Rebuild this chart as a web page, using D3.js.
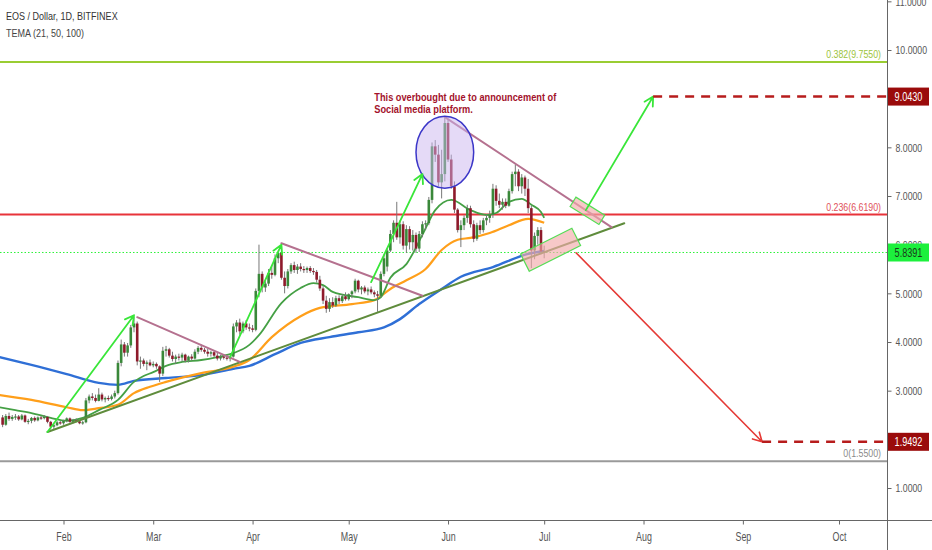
<!DOCTYPE html>
<html>
<head>
<meta charset="utf-8">
<script src="https://cdn.jsdelivr.net/npm/d3@7"></script>
<style>
  body { margin: 0; background: #fff; }
  svg { display: block; font-family: "Liberation Sans", Arial, sans-serif; }
</style>
</head>
<body>
<svg id="chart" width="932" height="550"></svg>
<script>
// ---- data ----
const startDay = "2019-01-13";
// daily candles [open, high, low, close], Jan 13 .. Jul 1 2019
const ohlc = [
  [2.45,2.50,2.25,2.30],[2.30,2.52,2.28,2.48],[2.48,2.55,2.38,2.42],[2.42,2.50,2.38,2.46],[2.46,2.52,2.40,2.47],
  [2.47,2.50,2.38,2.41],[2.41,2.52,2.39,2.49],[2.49,2.51,2.34,2.36],[2.36,2.42,2.31,2.38],[2.38,2.46,2.33,2.44],
  [2.44,2.47,2.36,2.39],[2.39,2.47,2.37,2.45],[2.45,2.48,2.40,2.44],[2.44,2.50,2.41,2.46],[2.46,2.48,2.33,2.36],
  [2.36,2.38,2.20,2.26],[2.26,2.32,2.21,2.29],[2.29,2.38,2.27,2.35],[2.35,2.38,2.30,2.33],
  // Feb
  [2.33,2.40,2.30,2.38],[2.38,2.45,2.35,2.43],[2.43,2.45,2.34,2.36],[2.36,2.42,2.33,2.39],[2.39,2.43,2.35,2.37],
  [2.37,2.39,2.31,2.33],[2.33,2.38,2.30,2.35],[2.35,2.85,2.33,2.80],[2.80,2.92,2.74,2.88],[2.88,2.95,2.80,2.85],
  [2.85,2.92,2.76,2.79],[2.79,3.05,2.78,2.92],[2.92,2.96,2.78,2.82],[2.82,2.88,2.76,2.85],[2.85,2.90,2.79,2.83],
  [2.83,2.92,2.80,2.88],[2.88,3.00,2.84,2.95],[2.95,3.62,2.92,3.57],[3.57,4.05,3.50,3.95],[3.95,4.00,3.70,3.78],
  [3.78,3.98,3.70,3.93],[3.93,4.35,3.88,4.30],[4.30,4.52,4.20,4.38],[4.38,4.42,3.52,3.60],[3.60,3.70,3.45,3.62],
  [3.62,3.66,3.50,3.55],[3.55,3.62,3.42,3.58],[3.58,3.64,3.50,3.52],
  // Mar
  [3.52,3.60,3.48,3.55],[3.55,3.58,3.45,3.50],[3.50,3.52,3.18,3.35],[3.35,3.90,3.30,3.82],[3.82,3.92,3.70,3.85],
  [3.85,3.88,3.68,3.72],[3.72,3.80,3.60,3.65],[3.65,3.74,3.55,3.70],[3.70,3.76,3.62,3.68],[3.68,3.78,3.60,3.74],
  [3.74,3.76,3.58,3.62],[3.62,3.72,3.58,3.70],[3.70,3.75,3.62,3.66],[3.66,3.85,3.64,3.80],[3.80,3.92,3.75,3.88],
  [3.88,3.95,3.80,3.84],[3.84,3.88,3.76,3.80],[3.80,3.86,3.70,3.76],[3.76,3.82,3.70,3.79],[3.79,3.82,3.68,3.72],
  [3.72,3.78,3.62,3.66],[3.66,3.74,3.62,3.70],[3.70,3.75,3.64,3.68],[3.68,3.72,3.62,3.66],[3.66,3.72,3.60,3.70],
  [3.70,4.38,3.68,4.32],[4.32,4.45,4.20,4.40],[4.40,4.48,4.15,4.22],[4.22,4.42,4.18,4.38],[4.38,4.45,4.25,4.30],
  [4.30,4.38,4.22,4.28],
  // Apr
  [4.28,4.35,4.20,4.25],[4.25,5.10,4.22,5.05],[5.05,6.00,4.92,5.40],[5.40,5.45,5.02,5.12],[5.12,5.25,5.03,5.20],
  [5.20,5.50,5.15,5.42],[5.42,5.58,5.30,5.38],[5.38,5.80,5.35,5.72],[5.72,5.88,5.62,5.83],[5.83,6.03,5.28,5.32],
  [5.32,5.45,5.00,5.15],[5.15,5.50,5.10,5.45],[5.45,5.62,5.40,5.58],[5.58,5.65,5.42,5.48],[5.48,5.60,5.40,5.55],
  [5.55,5.62,5.45,5.50],[5.50,5.56,5.42,5.48],[5.48,5.55,5.42,5.52],[5.52,5.56,5.42,5.46],[5.46,5.52,5.38,5.44],
  [5.44,5.48,5.22,5.28],[5.28,5.36,5.05,5.10],[5.10,5.15,4.78,4.85],[4.85,4.95,4.60,4.68],[4.68,4.90,4.62,4.82],
  [4.82,4.92,4.70,4.75],[4.75,4.95,4.72,4.90],[4.90,4.96,4.78,4.84],[4.84,4.98,4.80,4.94],[4.94,5.02,4.85,4.88],
  // May
  [4.88,5.00,4.85,4.98],[4.98,5.06,4.90,5.04],[5.04,5.30,5.00,5.26],[5.26,5.28,5.02,5.08],[5.08,5.15,4.98,5.12],
  [5.12,5.16,5.00,5.04],[5.04,5.12,4.96,5.08],[5.08,5.14,4.98,5.02],[5.02,5.06,4.92,4.98],[4.98,5.05,4.62,4.95],
  [4.95,5.45,4.92,5.40],[5.40,5.80,5.35,5.72],[5.55,5.92,5.45,5.88],[5.88,6.30,5.85,6.22],[6.22,6.50,6.05,6.45],
  [6.45,6.88,6.10,6.15],[6.15,6.50,6.02,6.42],[6.42,6.48,5.90,5.98],[5.98,6.40,5.83,6.32],[6.32,6.38,5.90,6.05],
  [6.05,6.30,5.88,6.20],[6.20,6.25,5.83,5.92],[5.92,6.28,5.85,6.22],[6.22,6.48,6.15,6.42],[6.42,6.50,6.30,6.44],
  [6.44,6.98,6.40,6.92],[6.92,8.10,6.85,8.02],[8.02,8.15,7.70,7.85],[7.85,8.05,7.20,7.28],[7.28,7.95,6.95,7.45],
  [7.45,8.62,7.30,8.50],
  // Jun
  [8.50,8.58,7.70,7.75],[7.75,7.85,7.15,7.20],[7.20,7.30,6.65,6.72],[6.72,6.75,6.25,6.30],[6.30,6.50,5.95,6.40],
  [6.40,6.60,6.30,6.55],[6.55,6.82,6.45,6.75],[6.75,6.80,6.35,6.42],[6.42,6.50,6.05,6.12],[6.12,6.45,6.08,6.40],
  [6.40,6.50,6.22,6.30],[6.30,6.55,6.25,6.50],[6.50,6.62,6.40,6.55],[6.55,6.70,6.45,6.62],[6.62,7.25,6.55,7.15],
  [7.15,7.22,6.80,6.90],[6.90,7.05,6.75,6.82],[6.82,6.95,6.72,6.88],[6.88,6.95,6.75,6.80],[6.80,7.15,6.78,7.10],
  [7.10,7.50,7.05,7.45],[7.45,7.65,7.20,7.50],[7.50,7.55,7.10,7.20],[7.20,7.45,7.05,7.38],[7.38,7.42,7.00,7.15],
  [7.15,7.35,6.65,6.75],[6.75,6.80,5.52,5.88],[5.88,6.25,5.70,6.18],[6.18,6.36,6.00,6.30],[6.30,6.36,5.80,5.86],
  // Jul
  [5.86,5.98,5.72,5.84]
];

// TEMA lines, [date, value]
const tema21 = [
  ["2019-01-12",2.66],["2019-01-17",2.60],["2019-01-22",2.54],["2019-01-28",2.44],["2019-02-02",2.38],
  ["2019-02-07",2.44],["2019-02-12",2.60],["2019-02-18",2.81],["2019-02-23",3.18],["2019-02-26",3.30],
  ["2019-03-01",3.38],["2019-03-05",3.51],["2019-03-10",3.59],["2019-03-16",3.63],["2019-03-21",3.69],
  ["2019-03-26",3.77],["2019-03-31",3.94],["2019-04-03",4.14],["2019-04-10",4.80],["2019-04-16",5.11],
  ["2019-04-20",5.21],["2019-04-23",5.17],["2019-04-26",5.03],["2019-05-04",4.92],["2019-05-09",4.86],
  ["2019-05-11",4.92],["2019-05-14",5.32],["2019-05-19",5.60],["2019-05-24",6.20],["2019-05-28",6.71],
  ["2019-06-02",6.92],["2019-06-08",6.71],["2019-06-13",6.61],["2019-06-16",6.65],["2019-06-20",6.88],
  ["2019-06-24",6.94],["2019-06-27",6.82],["2019-06-30",6.67],["2019-07-01",6.55]
];
const tema50 = [
  ["2019-01-12",2.91],["2019-01-22",2.81],["2019-02-02",2.66],["2019-02-07",2.60],["2019-02-12",2.64],
  ["2019-02-18",2.71],["2019-02-23",2.95],["2019-02-28",3.08],["2019-03-05",3.18],["2019-03-16",3.36],
  ["2019-03-26",3.49],["2019-03-31",3.63],["2019-04-07",4.10],["2019-04-16",4.53],["2019-04-22",4.70],
  ["2019-05-02",4.78],["2019-05-09",4.86],["2019-05-14",5.09],["2019-05-19",5.27],["2019-05-25",5.50],
  ["2019-05-30",5.89],["2019-06-04",6.10],["2019-06-08",6.14],["2019-06-14",6.24],["2019-06-20",6.40],
  ["2019-06-26",6.53],["2019-07-01",6.45]
];
const tema100 = [
  ["2019-01-12",3.69],["2019-01-22",3.53],["2019-02-02",3.34],["2019-02-12",3.16],["2019-02-18",3.12],
  ["2019-02-23",3.20],["2019-03-05",3.26],["2019-03-16",3.32],["2019-03-26",3.45],["2019-03-31",3.51],
  ["2019-04-08",3.75],["2019-04-16",3.98],["2019-04-25",4.10],["2019-05-04",4.20],["2019-05-12",4.30],
  ["2019-05-17",4.47],["2019-05-23",4.78],["2019-05-30",5.09],["2019-06-05",5.34],["2019-06-15",5.54],
  ["2019-06-26",5.81],["2019-07-01",5.87]
];

// Fibonacci levels
const fibRatios = ["0.382", "0.236", "0"];
const fibPrices = [9.755, 6.619, 1.55];

const lastPrice = 5.8391;
const targetPrices = [9.043, 1.9492];

// 9 and 2 sit under the price tags, so they are not shown
const priceTicks = [1, 3, 4, 5, 6, 7, 8, 10, 11];
const monthTicks = ["2019-02-01","2019-03-01","2019-04-01","2019-05-01","2019-06-01",
                    "2019-07-01","2019-08-01","2019-09-01","2019-10-01"];

// drawings, in [date, price]
const trendLine = [["2019-01-27",2.15],["2019-07-26",6.44]];
const resistLines = [
  [["2019-02-24",4.51],["2019-03-28",3.59]],
  [["2019-04-10",6.03],["2019-05-24",4.95]],
  [["2019-05-31",8.62],["2019-07-22",6.36]]
];
const upArrows = [
  [["2019-01-27",2.15],["2019-02-23",4.55]],
  [["2019-03-25",3.69],["2019-04-10",6.00]],
  [["2019-05-08",5.23],["2019-05-24",7.45]],
  [["2019-07-14",6.71],["2019-08-04",9.043]]
];
const downArrow = [["2019-07-11",5.83],["2019-09-07",1.9492]];
const targetStarts = ["2019-08-04", "2019-09-07"];
const boxes = [
  [["2019-07-10",6.88],["2019-07-19",6.51]],
  [["2019-06-25",5.63],["2019-07-11",6.16]]
];
const boxHalf = [5.5, 9.7];
const circleDates = ["2019-05-22","2019-06-09"];
const circlePrices = [7.16, 8.64];
const noteAt = ["2019-05-09", 8.95];
const noteLines = ["This overbought due to announcement of", "Social media platform."];

// ---- drawing ----
const svg = d3.select("#chart");
const W = 932, H = 550, plotR = 887, plotB = 520;
const parse = d3.utcParse("%Y-%m-%d");

const x = d3.scaleUtc()
  .domain([parse("2019-02-01"), parse("2019-10-01")])
  .range([63.5, 839]);
const y = d3.scaleLinear().domain([1, 10]).range([488, 50]);

const px = d => [x(parse(d[0])), y(d[1])];

// condensed look for text
function squeeze(sel, k) {
  sel.each(function () {
    const t = d3.select(this);
    t.attr("x", (+t.attr("x") || 0) / k).attr("transform", `scale(${k},1)`);
  });
}

svg.append("rect").attr("width", W).attr("height", H).attr("fill", "#fff");

svg.append("clipPath").attr("id", "plot")
  .append("rect").attr("width", plotR).attr("height", plotB);
const g = svg.append("g").attr("clip-path", "url(#plot)");

// fib lines
const fibColors = ["#9acd32", "#e8333a", "#9a9a9a"];
const fibText = ["#9cc43a", "#e0505a", "#8a8a8a"];
fibPrices.forEach((p, i) => {
  g.append("line").attr("x1", 0).attr("x2", plotR)
    .attr("y1", y(p)).attr("y2", y(p))
    .attr("stroke", fibColors[i]).attr("stroke-width", 2);
  g.append("text").attr("x", 881).attr("y", y(p) - 4)
    .attr("text-anchor", "end").attr("font-size", 11).attr("fill", fibText[i])
    .text(`${fibRatios[i]}(${d3.format(".4f")(p)})`)
    .call(squeeze, 0.8);
});

// last price dotted line
g.append("line").attr("x1", 0).attr("x2", plotR)
  .attr("y1", y(lastPrice)).attr("y2", y(lastPrice))
  .attr("stroke", "#2ef23a").attr("stroke-width", 1).attr("stroke-dasharray", "1.5,2");

// TEMA lines
const line = d3.line().x(d => x(parse(d[0]))).y(d => y(d[1])).curve(d3.curveMonotoneX);
[[tema100, "#2f6fd6", 2.4], [tema50, "#ff9f1a", 2.2], [tema21, "#45a045", 1.8]].forEach(([data, c, w]) => {
  g.append("path").datum(data).attr("d", line)
    .attr("fill", "none").attr("stroke", c).attr("stroke-width", w);
});

// candles
const candles = ohlc.map((r, i) => ({
  date: d3.utcDay.offset(parse(startDay), i), o: r[0], h: r[1], l: r[2], c: r[3]
}));
const bw = 2.6;
const cg = g.append("g");
cg.selectAll("line").data(candles).join("line")
  .attr("x1", d => x(d.date)).attr("x2", d => x(d.date))
  .attr("y1", d => y(d.h)).attr("y2", d => y(d.l))
  .attr("stroke", "#777").attr("stroke-width", 1);
cg.selectAll("rect").data(candles).join("rect")
  .attr("x", d => x(d.date) - bw / 2).attr("width", bw)
  .attr("y", d => y(Math.max(d.o, d.c)))
  .attr("height", d => Math.max(1.2, Math.abs(y(d.o) - y(d.c))))
  .attr("fill", d => d.c >= d.o ? "#3a883a" : "#8e1a2b");

// trend line and resistance lines
const seg = (pts, color, w) => {
  const [a, b] = pts.map(px);
  return g.append("line").attr("x1", a[0]).attr("y1", a[1]).attr("x2", b[0]).attr("y2", b[1])
    .attr("stroke", color).attr("stroke-width", w).attr("stroke-linecap", "round");
};
seg(trendLine, "#5f8c3c", 2);
resistLines.forEach(l => seg(l, "#b5718f", 2));

// ellipse
const ex = circleDates.map(d => x(parse(d))), ey = circlePrices.map(y);
g.append("ellipse")
  .attr("cx", (ex[0] + ex[1]) / 2).attr("cy", (ey[0] + ey[1]) / 2)
  .attr("rx", (ex[1] - ex[0]) / 2).attr("ry", Math.abs(ey[0] - ey[1]) / 2)
  .attr("fill", "#cbb6f0").attr("fill-opacity", 0.5)
  .attr("stroke", "#3b36c8").attr("stroke-width", 1.5);

// rotated boxes
boxes.forEach((b, i) => {
  const [a, c] = b.map(px);
  const dx = c[0] - a[0], dy = c[1] - a[1], len = Math.hypot(dx, dy);
  const nx = -dy / len * boxHalf[i], ny = dx / len * boxHalf[i];
  const pts = [[a[0] + nx, a[1] + ny], [c[0] + nx, c[1] + ny], [c[0] - nx, c[1] - ny], [a[0] - nx, a[1] - ny]];
  g.append("polygon").attr("points", pts.map(p => p.join(",")).join(" "))
    .attr("fill", "#f2aaaa").attr("fill-opacity", 0.65)
    .attr("stroke", "#55dd55").attr("stroke-width", 1.2);
});

// arrows
function arrow(pts, color, w) {
  const [a, b] = pts.map(px);
  const ang = Math.atan2(b[1] - a[1], b[0] - a[0]);
  const L = 10, s = 0.5;
  const h1 = [b[0] - L * Math.cos(ang - s), b[1] - L * Math.sin(ang - s)];
  const h2 = [b[0] - L * Math.cos(ang + s), b[1] - L * Math.sin(ang + s)];
  g.append("path")
    .attr("d", `M${a}L${b}M${h1}L${b}L${h2}`)
    .attr("fill", "none").attr("stroke", color).attr("stroke-width", w)
    .attr("stroke-linecap", "round").attr("stroke-linejoin", "round");
}
upArrows.forEach(a => arrow(a, "#39e639", 1.8));
arrow(downArrow, "#e53935", 1.6);

// target dashed lines
targetPrices.forEach((p, i) => {
  g.append("line").attr("x1", x(parse(targetStarts[i]))).attr("x2", plotR)
    .attr("y1", y(p)).attr("y2", y(p))
    .attr("stroke", "#b71c1c").attr("stroke-width", 2.5).attr("stroke-dasharray", "9,7");
});

// note
noteLines.forEach((t, i) => {
  g.append("text").attr("x", x(parse(noteAt[0]))).attr("y", y(noteAt[1]) + i * 12)
    .attr("font-size", 11).attr("font-weight", "bold").attr("fill", "#a3122b")
    .text(t).call(squeeze, 0.84);
});

// ---- axes ----
svg.append("line").attr("x1", 0).attr("x2", W).attr("y1", plotB + 0.5).attr("y2", plotB + 0.5)
  .attr("stroke", "#666");
svg.append("line").attr("x1", plotR + 0.5).attr("x2", plotR + 0.5).attr("y1", 0).attr("y2", H)
  .attr("stroke", "#666");

const yAxis = svg.append("g").attr("transform", `translate(${plotR + 0.5},0)`)
  .call(d3.axisRight(y).tickValues(priceTicks).tickFormat(d3.format(".4f")).tickSize(4).tickPadding(4));
yAxis.select(".domain").remove();
yAxis.selectAll("line").attr("stroke", "#666");
yAxis.selectAll("text").attr("fill", "#555").attr("font-size", 11.5)
  .attr("font-family", "Liberation Sans, Arial, sans-serif").call(squeeze, 0.76);

const xAxis = svg.append("g").attr("transform", `translate(0,${plotB + 0.5})`)
  .call(d3.axisBottom(x).tickValues(monthTicks.map(parse)).tickFormat(d3.utcFormat("%b")).tickSize(4).tickPadding(8));
xAxis.select(".domain").remove();
xAxis.selectAll("line").attr("stroke", "#666");
xAxis.selectAll("text").attr("fill", "#555").attr("font-size", 12)
  .attr("font-family", "Liberation Sans, Arial, sans-serif").call(squeeze, 0.74);

// price boxes on the axis
const tags = [
  [targetPrices[0], "#9a0b0b", "#fff"],
  [lastPrice, "#1cf03c", "#1b3a1b"],
  [targetPrices[1], "#9a0b0b", "#fff"]
];
tags.forEach(([p, bg, fg]) => {
  svg.append("rect").attr("x", plotR + 1).attr("y", y(p) - 9).attr("width", 41).attr("height", 18)
    .attr("fill", bg);
  svg.append("text").attr("x", plotR + 21.5).attr("y", y(p) + 4.2)
    .attr("text-anchor", "middle").attr("font-size", 12).attr("fill", fg)
    .text(d3.format(".4f")(p)).call(squeeze, 0.76);
});

// title
svg.append("text").attr("x", 6).attr("y", 20).attr("font-size", 11).attr("fill", "#333")
  .text("EOS / Dollar, 1D, BITFINEX").call(squeeze, 0.82);
svg.append("text").attr("x", 6).attr("y", 37).attr("font-size", 11).attr("fill", "#444")
  .text("TEMA (21, 50, 100)").call(squeeze, 0.82);
</script>
</body>
</html>
